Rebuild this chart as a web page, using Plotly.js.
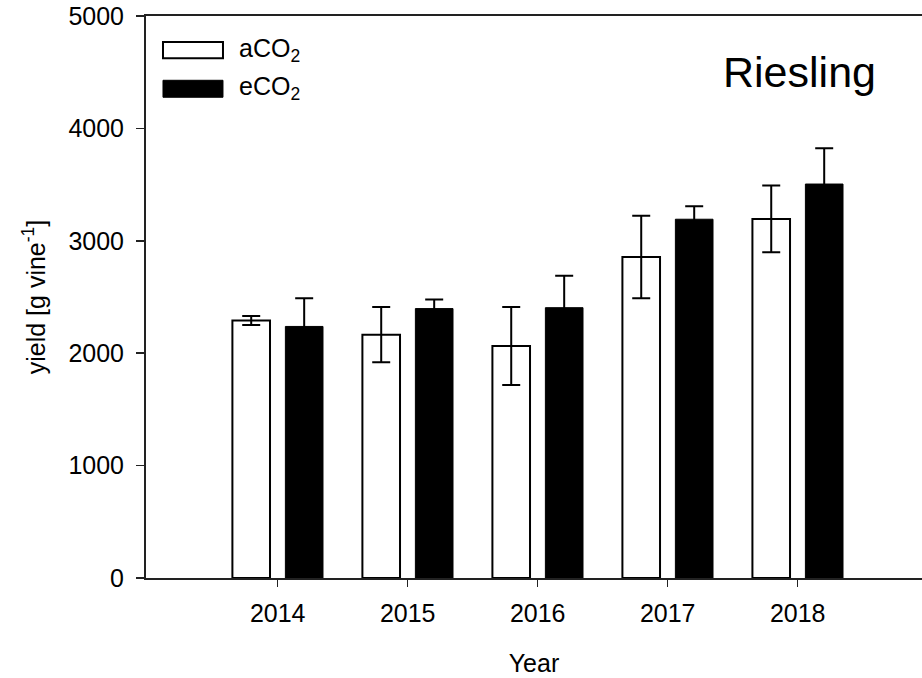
<!DOCTYPE html>
<html>
<head>
<meta charset="utf-8">
<script src="https://cdn.plot.ly/plotly-3.0.1.min.js"></script>
<style>html,body{margin:0;padding:0;background:#fff;}</style>
</head>
<body>
<div id="chart" style="width:922px;height:678px;"></div>
<script>
const years = [2014, 2015, 2016, 2017, 2018];
const tickLabels = ["2014", "2015", "2016", "2017", "2018"];
const aCO2 = [2290, 2165, 2065, 2855, 3195];
const aCO2Err = [40, 245, 347, 367, 297];
const eCO2 = [2238, 2397, 2405, 3192, 3505];
const eCO2Err = [250, 80, 285, 115, 318];

const FONT = "Liberation Sans, Arial, sans-serif";
const FS = 25;

const traces = [
  {
    type: "bar", name: "aCO<sub>2</sub>", x: years, y: aCO2,
    marker: {color: "#ffffff", line: {color: "#000000", width: 2}},
    error_y: {type: "data", array: aCO2Err, visible: true, color: "#000000", thickness: 2, width: 9},
    showlegend: false
  },
  {
    type: "bar", name: "eCO<sub>2</sub>", x: years, y: eCO2,
    marker: {color: "#000000", line: {color: "#000000", width: 1}},
    error_y: {type: "data", array: eCO2Err, visible: true, color: "#000000", thickness: 2, width: 9},
    showlegend: false
  }
];

const layout = {
  width: 922, height: 678,
  margin: {l: 146, r: 0, t: 16, b: 100},
  paper_bgcolor: "#ffffff", plot_bgcolor: "#ffffff",
  font: {family: FONT, size: FS, color: "#000000"},
  barmode: "group", bargap: 0.185, bargroupgap: 0.29,
  xaxis: {
    range: [2012.987, 2018.956],
    tickvals: years, ticktext: tickLabels,
    showline: true, mirror: true, linecolor: "#222222", linewidth: 2,
    ticks: "outside", ticklen: 7, tickwidth: 1.5, tickcolor: "#222222",
    ticklabelstandoff: 5,
    showgrid: false, zeroline: false,
    tickfont: {family: FONT, size: FS, color: "#000000"},
    title: {text: "Year", font: {family: FONT, size: FS, color: "#000000"}, standoff: 28}
  },
  yaxis: {
    range: [0, 5000], tickvals: [0, 1000, 2000, 3000, 4000, 5000],
    showline: true, linecolor: "#222222", linewidth: 2,
    ticks: "outside", ticklen: 8, tickwidth: 1.5, tickcolor: "#222222",
    ticklabelstandoff: 7,
    showgrid: false, zeroline: false,
    tickfont: {family: FONT, size: FS, color: "#000000"},
    title: {text: "yield [g vine<sup>-1</sup>]", font: {family: FONT, size: FS, color: "#000000"}, standoff: 16}
  },
  shapes: [
    {type: "rect", xref: "paper", yref: "paper", x0: 0.0219, x1: 0.0992, y0: 0.9248, y1: 0.9538,
     line: {color: "#000000", width: 2}, fillcolor: "#ffffff"},
    {type: "rect", xref: "paper", yref: "paper", x0: 0.0219, x1: 0.0992, y0: 0.8554, y1: 0.8856,
     line: {color: "#000000", width: 1}, fillcolor: "#000000"}
  ],
  annotations: [
    {xref: "paper", yref: "paper", x: 0.1173, y: 0.939, xanchor: "left", yanchor: "middle",
     text: "aCO<sub>2</sub>", showarrow: false, font: {family: FONT, size: FS, color: "#000000"}},
    {xref: "paper", yref: "paper", x: 0.1173, y: 0.871, xanchor: "left", yanchor: "middle",
     text: "eCO<sub>2</sub>", showarrow: false, font: {family: FONT, size: FS, color: "#000000"}},
    {xref: "paper", yref: "paper", x: 0.8415, y: 0.90, xanchor: "center", yanchor: "middle",
     text: "Riesling", showarrow: false, font: {family: FONT, size: 43, color: "#000000"}}
  ]
};

Plotly.newPlot("chart", traces, layout, {staticPlot: true, displayModeBar: false});
</script>
</body>
</html>
